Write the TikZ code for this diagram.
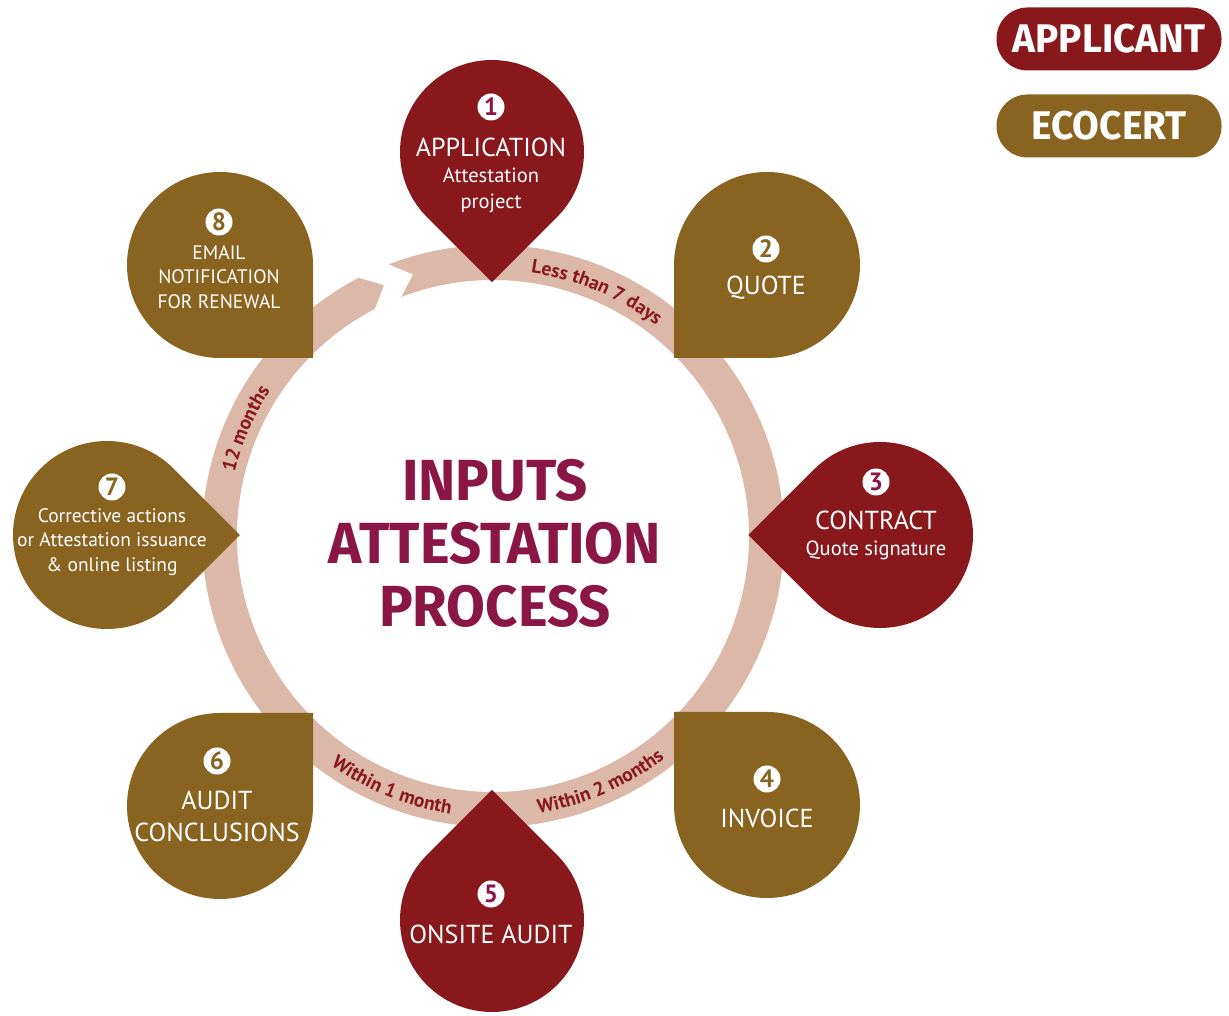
\documentclass[tikz,border=0pt]{standalone}
\usepackage{fontspec}
\setmainfont{PT Sans}
\newfontfamily\headfont{Fira Sans}[FakeStretch=0.97]
\usepackage{tikz}
\usetikzlibrary{decorations.text}
\definecolor{applred}{HTML}{89181D}
\definecolor{ecobrown}{HTML}{896320}
\definecolor{ringpink}{HTML}{DCB8A8}
\definecolor{titlepurple}{HTML}{8A1646}
\newcommand{\ringfont}{\bfseries\fontsize{19.5}{19.5}\selectfont}
\newcommand{\subfont}{\fontsize{20.5}{24}\selectfont}

\begin{document}
\begin{tikzpicture}[x=1pt, y=1pt,
	numdot/.style={circle, fill=white, inner sep=0pt, minimum size=27pt, font=\bfseries\fontsize{25}{25}\selectfont},
	bigtxt/.style={text=white, align=center, font=\fontsize{26}{32}\selectfont},
	smalltxt/.style={text=white, align=center, font=\fontsize{19.5}{24.5}\selectfont},
	ringtxt/.style={decorate, decoration={text along path, text align=center, text color=applred, text={|\ringfont|#1}}},
	legendbox/.style={rounded corners=31pt, minimum width=225pt, minimum height=63pt, text=white, font=\headfont\bfseries\fontsize{40}{40}\selectfont}]
		\useasboundingbox (0,0) rectangle (1229,1016);

		% ring with arrow gap
		\coordinate (ctr) at (493,480);
		\begin{scope}[shift={(ctr)}]
			\fill[ringpink] (111:291) arc[start angle=111, end angle=-242.5, radius=291] -- (-246.5:273.5) -- (-242.5:256) arc[start angle=-242.5, end angle=111, radius=256] -- (107:273.5) -- cycle;
			\path[ringtxt={Less than 7 days}] (84:266) arc[start angle=84, end angle=50, radius=266];
			\path[ringtxt={12 months}] (172:266) arc[start angle=172, end angle=141, radius=266];
			\path[ringtxt={Within 1 month}] (-129:281) arc[start angle=-129, end angle=-95, radius=281];
			\path[ringtxt={Within 2 months}] (-84:281) arc[start angle=-84, end angle=-49, radius=281];
		\end{scope}

		% drops
		\coordinate (c1) at (492,864);
		\coordinate (c2) at (767,751);
		\coordinate (c3) at (880,481);
		\coordinate (c4) at (767,211);
		\coordinate (c5) at (492,96);
		\coordinate (c6) at (220,210);
		\coordinate (c7) at (107,481);
		\coordinate (c8) at (220,751);
		\fill[applred] (c1) ++(-45:92) arc[start angle=-45, end angle=225, radius=92] -- ++(-45:92) -- cycle;
		\fill[ecobrown] (c2) ++(-90:93) arc[start angle=-90, end angle=180, radius=93] -- ++(-90:93) -- cycle;
		\fill[applred] (c3) ++(225:93) arc[start angle=225, end angle=495, radius=93] -- ++(225:93) -- cycle;
		\fill[ecobrown] (c4) ++(180:93) arc[start angle=180, end angle=450, radius=93] -- ++(180:93) -- cycle;
		\fill[applred] (c5) ++(135:92) arc[start angle=135, end angle=405, radius=92] -- ++(135:92) -- cycle;
		\fill[ecobrown] (c6) ++(90:93) arc[start angle=90, end angle=360, radius=93] -- ++(90:93) -- cycle;
		\fill[ecobrown] (c7) ++(45:94) arc[start angle=45, end angle=315, radius=94] -- ++(45:94) -- cycle;
		\fill[ecobrown] (c8) ++(0:93) arc[start angle=0, end angle=270, radius=93] -- ++(0:93) -- cycle;

		% numbers and labels
		\node[numdot, text=titlepurple] (n1) at (491,909) {1};
		\node[bigtxt] (t1) at (491,841) {APPLICATION\\[-6pt]{\subfont Attestation}\\[-6pt]{\subfont project}};
		\node[numdot, text=ecobrown] (n2) at (766,767) {2};
		\node[bigtxt] (t2) at (766,728) {QUOTE};
		\node[numdot, text=titlepurple] (n3) at (876,534) {3};
		\node[bigtxt] (t3) at (876,481) {CONTRACT\\[-6pt]{\subfont Quote signature}};
		\node[numdot, text=ecobrown] (n4) at (767,237) {4};
		\node[bigtxt] (t4) at (767,198) {INVOICE};
		\node[numdot, text=titlepurple] (n5) at (491,122) {5};
		\node[bigtxt] (t5) at (491,82) {ONSITE AUDIT};
		\node[numdot, text=ecobrown] (n6) at (217,255) {6};
		\node[bigtxt] (t6) at (217,200) {AUDIT\\CONCLUSIONS};
		\node[numdot, text=ecobrown] (n7) at (112,529) {7};
		\node[smalltxt] (t7) at (112,474) {Corrective actions\\or Attestation issuance\\\& online listing};
		\node[numdot, text=ecobrown] (n8) at (219,794) {8};
		\node[smalltxt] (t8) at (219,739) {EMAIL\\NOTIFICATION\\FOR RENEWAL};

		% centre title
		\node[text=titlepurple, align=center, font=\headfont\bfseries\fontsize{58}{63}\selectfont] (title) at (495,473) {INPUTS\\ATTESTATION\\PROCESS};

		% legend
		\node[legendbox, fill=applred] (lapp) at (1109,977) {APPLICANT};
		\node[legendbox, fill=ecobrown] (leco) at (1109,890) {ECOCERT};
	\end{tikzpicture}
\end{document}
